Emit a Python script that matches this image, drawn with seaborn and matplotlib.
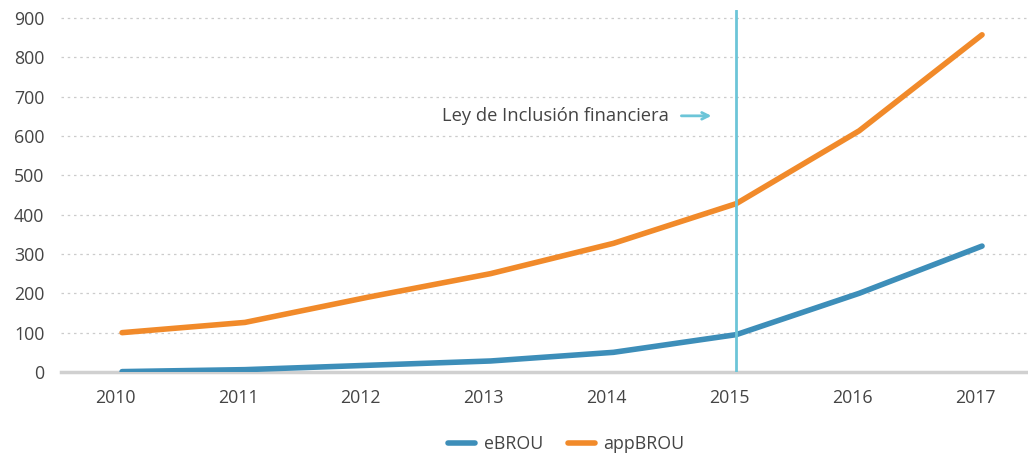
import pandas as pd
import matplotlib.pyplot as plt
import matplotlib.transforms as mtransforms
import seaborn as sns

# values
years = [2010, 2011, 2012, 2013, 2014, 2015, 2016, 2017]
ebrou = [1, 6, 17, 28, 50, 95, 200, 320]
appbrou = [100, 126, 190, 250, 327, 428, 613, 857]
yticks = [0, 100, 200, 300, 400, 500, 600, 700, 800, 900]
law_year = 2015
law_label = 'Ley de Inclusión financiera'

df = pd.DataFrame({
    'year': years * 2,
    'value': ebrou + appbrou,
    'serie': ['eBROU'] * len(years) + ['appBROU'] * len(years),
})

sns.set_theme(style='white')
plt.rcParams['font.family'] = ['Open Sans', 'DejaVu Sans']

fig = plt.figure(figsize=(10.28, 4.55), dpi=100)
ax = fig.add_axes([61 / 1028, 1 - 372 / 455, 1 - 61 / 1028, 362 / 455])

palette = {'eBROU': '#3d8eb9', 'appBROU': '#f18a2a'}
sns.lineplot(data=df, x='year', y='value', hue='serie', palette=palette,
             linewidth=4, solid_capstyle='round', ax=ax, zorder=3)

ax.set_xlim(2009.503, 2017.374)
ax.set_ylim(0, 920)
ax.set_yticks(yticks)
ax.set_xticks(years)
ax.set_xlabel('')
ax.set_ylabel('')

# dotted gridlines
for y in yticks[1:]:
    ax.axhline(y, color='#cccccc', linestyle=(0, (2, 3)), linewidth=0.9, zorder=1)

for s in ['top', 'right', 'left']:
    ax.spines[s].set_visible(False)
ax.spines['bottom'].set_color('#d0d0d0')
ax.spines['bottom'].set_linewidth(2.5)
ax.tick_params(axis='both', length=0, labelsize=12.8, colors='#444444')
ax.tick_params(axis='x', pad=12)
ax.tick_params(axis='y', pad=12)

# year labels sit a little left of the points in the original
shift = mtransforms.ScaledTranslation(-7 / 100, 0, fig.dpi_scale_trans)
for lbl in ax.get_xticklabels():
    lbl.set_transform(lbl.get_transform() + shift)

# law marker
ax.axvline(law_year, color='#6cc5d8', linewidth=2, zorder=4)
ax.text(law_year - 0.55, 651, law_label, ha='right', va='center',
        fontsize=13.2, color='#444444')
ax.annotate('', xy=(law_year - 0.18, 651), xytext=(law_year - 0.47, 651),
            arrowprops=dict(arrowstyle='->', color='#6cc5d8', lw=2))

leg = ax.legend(loc='upper center', bbox_to_anchor=(0.5 + 22 / 967, -0.13),
                ncol=2, frameon=False, fontsize=12.8, handlelength=1.5,
                columnspacing=1.4, handletextpad=0.5)
for t in leg.get_texts():
    t.set_color('#444444')
for line in leg.get_lines():
    line.set_linewidth(4)

fig.savefig('out.png', dpi=100)
